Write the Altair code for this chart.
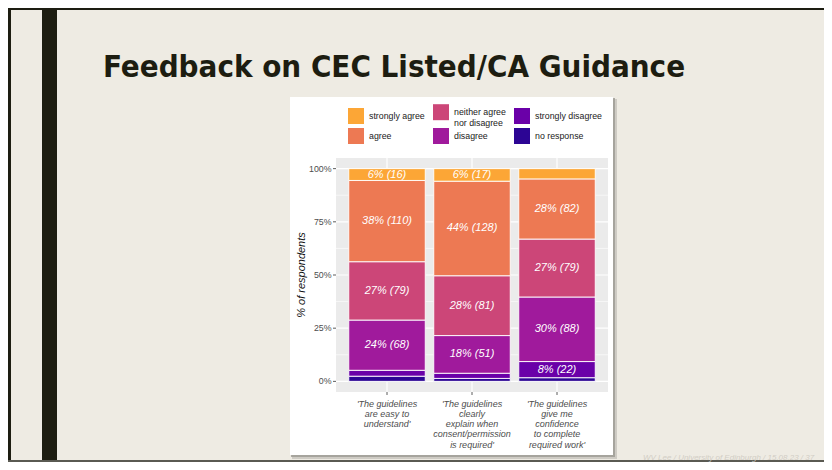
import altair as alt
import pandas as pd

# ---------------- data ----------------
questions = [
    "'The guidelines|are easy to|understand'",
    "'The guidelines|clearly|explain when|consent/permission|is required'",
    "'The guidelines|give me|confidence|to complete|required work'",
]
# stacking order, bottom to top
responses = ["no response", "strongly disagree", "disagree",
             "neither agree nor disagree", "agree", "strongly agree"]
counts_q1 = [7, 8, 68, 79, 110, 16]
counts_q2 = [4, 7, 51, 81, 128, 17]
counts_q3 = [5, 22, 88, 79, 82, 14]
labels_q1 = ["", "", "24% (68)", "27% (79)", "38% (110)", "6% (16)"]
labels_q2 = ["", "", "18% (51)", "28% (81)", "44% (128)", "6% (17)"]
labels_q3 = ["", "8% (22)", "30% (88)", "27% (79)", "28% (82)", ""]

legend_order = ["strongly agree", "neither agree nor disagree", "strongly disagree",
                "agree", "disagree", "no response"]
legend_colors = ["#FCA636", "#CC4678", "#6A00A8", "#ED7953", "#A01A9C", "#2C0594"]

y_major = [0, 0.25, 0.5, 0.75, 1.0]
y_major_labels = ["0%", "25%", "50%", "75%", "100%"]
y_minor = [0.125, 0.375, 0.625, 0.875]
Y_TITLE = "% of respondents"

TITLE = "Feedback on CEC Listed/CA Guidance"
FOOTER = "WV Lee / University of Edinburgh / 15.08.23 / 37"

rows = []
for q, cs, ls in zip(questions, [counts_q1, counts_q2, counts_q3],
                     [labels_q1, labels_q2, labels_q3]):
    for i, (r, c, l) in enumerate(zip(responses, cs, ls)):
        rows.append({"question": q, "response": r, "count": c, "label": l, "order": i})
df = pd.DataFrame(rows)
yticks = pd.DataFrame({"v": y_major, "lab": y_major_labels})

# ---------------- style ----------------
W, H = 272, 234
BEIGE = "#EEEBE3"
DARK = "#1D1D11"
FONT = "Liberation Sans"

xscale = alt.Scale(domain=questions, paddingInner=0.1, paddingOuter=0.15)
yscale = alt.Scale(domain=[-0.05, 1.05], nice=False, zero=False)
one = alt.Data(values=[{}])


def deco_rect(x, x2, y, y2, color, opacity=1.0):
    return alt.Chart(one).mark_rect(color=color, opacity=opacity).encode(
        x=alt.value(x), x2=alt.value(x2), y=alt.value(y), y2=alt.value(y2))


decos = [
    deco_rect(-328, -325, -150, 304, DARK),           # left frame line
    deco_rect(-328, 500, -150, -148, DARK),           # top frame line
    deco_rect(-294, -279, -150, 304, DARK),           # dark side bar
    deco_rect(-328, 500, 302, 304, "#5A5A52"),        # bottom line
    deco_rect(-44, 281, -59, 301, "#B9B6AF", 0.6),    # shadow outer
    deco_rect(-45, 279, -60, 299, "#9C9A94", 0.8),    # shadow inner
    deco_rect(-46, 277, -61, 297, "white"),           # white picture box
    deco_rect(0, W, 0, H, "#EBEBEB"),                 # ggplot panel
]

minor = alt.Chart(pd.DataFrame({"v": y_minor})).mark_rule(
    color="white", strokeWidth=0.6).encode(
    y=alt.Y("v:Q", scale=yscale, axis=None), x=alt.value(0), x2=alt.value(W))
major = alt.Chart(yticks).mark_rule(
    color="white", strokeWidth=1.2).encode(
    y=alt.Y("v:Q", scale=yscale, axis=None), x=alt.value(0), x2=alt.value(W))
vgrid = alt.Chart(pd.DataFrame({"question": questions})).mark_rule(
    color="white", strokeWidth=1.2).encode(
    x=alt.X("question:N", scale=xscale, axis=None), y=alt.value(0), y2=alt.value(H))

# axis ticks / labels (ggplot style)
ytick_marks = alt.Chart(yticks).mark_rule(color="#333333", strokeWidth=0.8).encode(
    y=alt.Y("v:Q", scale=yscale, axis=None), x=alt.value(-3), x2=alt.value(0))
ytick_text = alt.Chart(yticks).mark_text(
    align="right", baseline="middle", font=FONT, fontSize=8.8, color="#4D4D4D").encode(
    y=alt.Y("v:Q", scale=yscale, axis=None), x=alt.value(-4.5), text="lab:N")
xtick_marks = alt.Chart(pd.DataFrame({"question": questions})).mark_rule(
    color="#333333", strokeWidth=0.8).encode(
    x=alt.X("question:N", scale=xscale, axis=None), y=alt.value(H), y2=alt.value(H + 3))
xtick_text = alt.Chart(pd.DataFrame({"question": questions})).mark_text(
    align="center", baseline="top", font=FONT, fontStyle="italic", fontSize=9,
    color="#4D4D4D", lineBreak="|", lineHeight=10.3).encode(
    x=alt.X("question:N", scale=xscale, axis=None), y=alt.value(H + 7.5),
    text="question:N")
ytitle = alt.Chart(one).mark_text(
    align="center", baseline="middle", angle=270, font=FONT, fontStyle="italic",
    fontSize=11, color="#111111").encode(
    x=alt.value(-34), y=alt.value(H / 2), text=alt.value(Y_TITLE))

base = alt.Chart(df).transform_stack(
    stack="count", groupby=["question"],
    sort=[alt.SortField("order", order="ascending")],
    as_=["y0", "y1"], offset="normalize",
).transform_calculate(mid="(datum.y0 + datum.y1) / 2")

bars = base.mark_bar(stroke="white", strokeWidth=0.9).encode(
    x=alt.X("question:N", scale=xscale, axis=None),
    y=alt.Y("y0:Q", scale=yscale, axis=None),
    y2="y1:Q",
    color=alt.Color("response:N",
                    scale=alt.Scale(domain=legend_order, range=legend_colors),
                    legend=alt.Legend(orient="none", legendX=12, legendY=-54,
                                      columns=3, direction="horizontal", title=None,
                                      symbolType="square", symbolSize=256,
                                      symbolStrokeWidth=0, symbolOpacity=1,
                                      labelFont=FONT, labelFontSize=8.8,
                                      labelColor="#1A1A1A", labelOffset=5,
                                      columnPadding=8,
                                      rowPadding=-2, padding=0, labelLimit=0,
                                      labelExpr="datum.label == 'neither agree nor disagree' ? ['neither agree', 'nor disagree'] : datum.label")),
)

texts = base.transform_filter("datum.label != ''").mark_text(
    color="white", font=FONT, fontStyle="italic", fontSize=11).encode(
    x=alt.X("question:N", scale=xscale, axis=None),
    y=alt.Y("mid:Q", scale=yscale, axis=None),
    text="label:N")

title = alt.Chart(one).mark_text(
    align="left", baseline="alphabetic", font="DejaVu Sans Condensed, DejaVu Sans",
    fontWeight="bold", fontSize=31, color=DARK).encode(
    x=alt.value(-233), y=alt.value(-81), text=alt.value(TITLE))

footer = alt.Chart(one).mark_text(
    align="left", baseline="alphabetic", font=FONT, fontStyle="italic",
    fontSize=8, color="#D2CEC5").encode(
    x=alt.value(307), y=alt.value(302), text=alt.value(FOOTER))

chart = alt.layer(*decos, minor, major, vgrid, bars, texts,
                  ytick_marks, ytick_text, xtick_marks, xtick_text, ytitle,
                  title, footer).properties(
    width=W, height=H, background=BEIGE,
    autosize=alt.AutoSizeParams(type="none"),
    padding={"left": 328, "top": 150, "right": 216, "bottom": 70},
).configure_view(stroke=None, fill=None)

chart.save("out.html", embed_options={"renderer": "svg", "actions": False})
